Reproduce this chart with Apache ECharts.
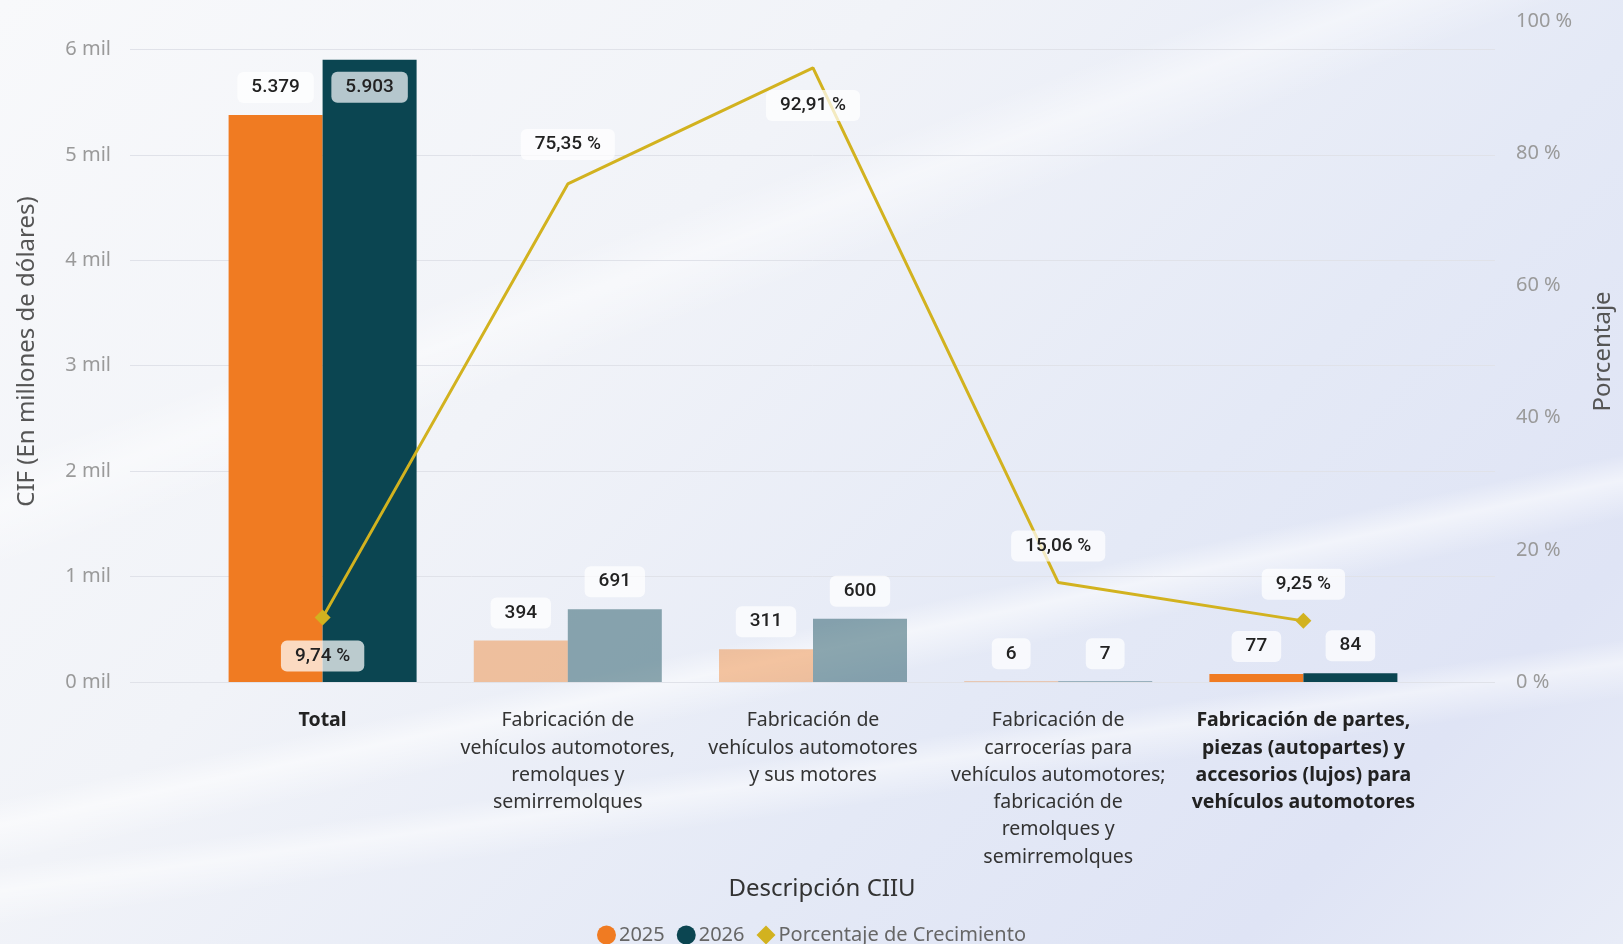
<!DOCTYPE html>
<html>
<head>
<meta charset="utf-8">
<script src="https://cdn.jsdelivr.net/npm/echarts@6/dist/echarts.min.js"></script>
<style>
  html, body {
    margin: 0;
    padding: 0;
    width: 1623px;
    height: 944px;
    overflow: hidden;
  }
  body {
    background:
      linear-gradient(168deg, rgba(255,255,255,0) 62%, rgba(255,255,255,0.55) 64%, rgba(255,255,255,0) 67%),
      linear-gradient(172deg, rgba(255,255,255,0) 74%, rgba(255,255,255,0.5) 76%, rgba(255,255,255,0) 79%),
      linear-gradient(160deg, rgba(255,255,255,0) 30%, rgba(255,255,255,0.45) 33%, rgba(255,255,255,0) 37%),
      linear-gradient(135deg, #f8f9fb 0%, #f1f3f8 35%, #e4e9f6 65%, #dfe4f5 85%, #e8ecf7 100%);
  }
  #chart {
    width: 1623px;
    height: 944px;
  }
</style>
</head>
<body>
<div id="chart"></div>
<script>
const categories = [
  'Total',
  'Fabricación de\nvehículos automotores,\nremolques y\nsemirremolques',
  'Fabricación de\nvehículos automotores\ny sus motores',
  'Fabricación de\ncarrocerías para\nvehículos automotores;\nfabricación de\nremolques y\nsemirremolques',
  'Fabricación de partes,\npiezas (autopartes) y\naccesorios (lujos) para\nvehículos automotores'
]
const values2025 = [5379, 394, 311, 6, 77]
const values2026 = [5903, 691, 600, 7, 84]
const growthPct = [9.74, 75.35, 92.91, 15.06, 9.25]
// categories that are highlighted (selected) in the report
const selected = [true, false, false, false, true]
const leftTicks = [0, 1000, 2000, 3000, 4000, 5000, 6000]
const rightTicks = [0, 20, 40, 60, 80, 100]

const ORANGE = '#f07b22'
const ORANGE_FADED = 'rgba(240,123,34,0.42)'
const TEAL = '#0b4551'
const TEAL_FADED = 'rgba(11,69,81,0.45)'
const GOLD = '#d2b21f'
const LEFT_MAX = 6270

const chart = echarts.init(document.getElementById('chart'))

function fmtThousands(v) {
  return String(v).replace(/\B(?=(\d{3})+(?!\d))/g, '.')
}

function fmtPct(v) {
  return v.toFixed(2).replace('.', ',') + ' %'
}

const labelBox = {
  color: '#222',
  fontSize: 19,
  fontFamily: 'Roboto',
  fontWeight: 500,
  backgroundColor: 'rgba(255,255,255,0.72)',
  borderRadius: 6,
  padding: [6, 14]
}

const bars2025 = values2025.map((v, i) => ({
  value: v,
  itemStyle: { color: selected[i] ? ORANGE : ORANGE_FADED }
}))

const bars2026 = values2026.map((v, i) => {
  const item = {
    value: v,
    itemStyle: { color: selected[i] ? TEAL : TEAL_FADED }
  }
  if (i === 0) {
    item.label = {
      position: 'insideTop',
      distance: 12,
      backgroundColor: 'rgba(205,218,222,0.88)'
    }
  }
  return item
})

// label placement of the growth line
const linePos = ['bottom', 'top', 'bottom', 'top', 'top']
const lineDist = [15, 24, 22, 21, 13]

const lineData = growthPct.map((v, i) => ({
  value: v,
  symbolSize: selected[i] ? 16 : 0.1,
  label: { position: linePos[i], distance: lineDist[i] }
}))

const option = {
  textStyle: { fontFamily: 'Noto Sans' },
  color: [ORANGE, TEAL, GOLD],
  title: {
    text: 'Descripción CIIU',
    left: 817,
    top: 872,
    textAlign: 'center',
    textStyle: {
      fontFamily: 'Noto Sans',
      fontSize: 24,
      fontWeight: 'normal',
      color: '#333'
    }
  },
  legend: {
    top: 920,
    left: 'center',
    itemWidth: 19,
    itemHeight: 19,
    itemGap: 12,
    textStyle: { color: '#666', fontSize: 20, padding: [0, 0, 0, -2] },
    data: [
      { name: '2025', icon: 'circle' },
      { name: '2026', icon: 'circle' },
      { name: 'Porcentaje de Crecimiento', icon: 'diamond' }
    ]
  },
  grid: [
    { left: 130, right: 123, top: 21, bottom: 262 },
    { left: 200, right: 197, top: 21, bottom: 262 }
  ],
  xAxis: [
    { gridIndex: 0, type: 'value', show: false },
    {
      gridIndex: 1,
      type: 'category',
      data: categories,
      axisLine: { show: false },
      axisTick: { show: false },
      axisLabel: {
        margin: 25,
        interval: 0,
        color: '#333',
        fontSize: 19.5,
        lineHeight: 27.3,
        formatter: (val, idx) => {
          if (!selected[idx]) return val
          return val.split('\n').map(s => '{b|' + s + '}').join('\n')
        },
        rich: {
          b: { fontWeight: 'bold', fontSize: 19.5, lineHeight: 27.3, color: '#222' }
        }
      }
    }
  ],
  yAxis: [
    {
      gridIndex: 0,
      type: 'value',
      position: 'left',
      min: 0,
      max: LEFT_MAX,
      interval: 1000,
      name: 'CIF (En millones de dólares)',
      nameLocation: 'middle',
      nameRotate: 90,
      nameGap: 91,
      nameTextStyle: { fontSize: 24, color: '#555' },
      axisLine: { show: false },
      axisTick: { show: false },
      axisLabel: {
        margin: 19,
        fontSize: 20,
        color: '#9a9a9a',
        showMaxLabel: false,
        formatter: v => (leftTicks.includes(v) ? v / 1000 + ' mil' : '')
      },
      splitLine: {
        showMaxLine: false,
        lineStyle: { color: '#e0e2e9', width: 1 }
      }
    },
    {
      gridIndex: 0,
      type: 'value',
      position: 'right',
      min: 0,
      max: 100,
      interval: 20,
      name: 'Porcentaje',
      nameLocation: 'middle',
      nameRotate: 90,
      nameGap: 96,
      nameTextStyle: { fontSize: 24, color: '#555' },
      axisLine: { show: false },
      axisTick: { show: false },
      splitLine: { show: false },
      axisLabel: {
        margin: 21,
        fontSize: 20,
        color: '#9a9a9a',
        formatter: v => (rightTicks.includes(v) ? v + ' %' : '')
      }
    },
    { gridIndex: 1, type: 'value', min: 0, max: LEFT_MAX, show: false },
    { gridIndex: 1, type: 'value', min: 0, max: 100, show: false }
  ],
  series: [
    {
      name: '2025',
      type: 'bar',
      xAxisIndex: 1,
      yAxisIndex: 2,
      barWidth: 94,
      barGap: '0%',
      data: bars2025,
      label: {
        show: true,
        position: 'top',
        distance: 12,
        formatter: p => fmtThousands(p.value),
        ...labelBox
      }
    },
    {
      name: '2026',
      type: 'bar',
      xAxisIndex: 1,
      yAxisIndex: 2,
      barWidth: 94,
      barGap: '0%',
      data: bars2026,
      label: {
        show: true,
        position: 'top',
        distance: 12,
        formatter: p => fmtThousands(p.value),
        ...labelBox
      }
    },
    {
      name: 'Porcentaje de Crecimiento',
      type: 'line',
      xAxisIndex: 1,
      yAxisIndex: 3,
      symbol: 'diamond',
      z: 5,
      data: lineData,
      lineStyle: { color: GOLD, width: 3 },
      itemStyle: { color: GOLD },
      label: {
        show: true,
        formatter: p => fmtPct(p.value),
        ...labelBox
      }
    }
  ]
}

chart.setOption(option)
</script>
</body>
</html>
